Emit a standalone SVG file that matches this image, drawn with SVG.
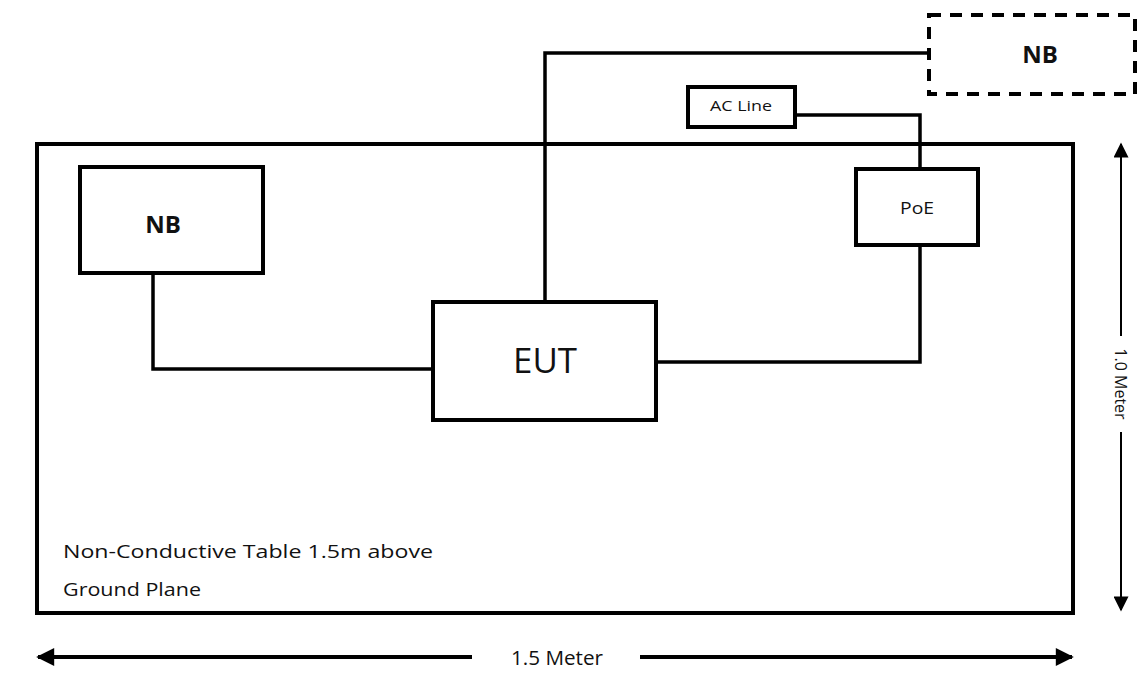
<svg xmlns="http://www.w3.org/2000/svg" width="1138" height="679" viewBox="0 0 1138 679">
<style>
.box{fill:#fff;stroke:#000;stroke-width:4}
.dash{fill:#fff;stroke:#000;stroke-width:4;stroke-dasharray:12 9}
.wire{fill:none;stroke:#000;stroke-width:3.5}
.dim{fill:none;stroke:#000;stroke-width:2}
.dimh{fill:none;stroke:#000;stroke-width:4}
text{font-family:"Open Sans","Liberation Sans",sans-serif;fill:#111}
.lbl{font-size:19px}
.nb{font-size:24px;font-weight:bold}
</style>
<defs>
<marker id="ahv" viewBox="0 0 10 10" refX="9" refY="5" markerWidth="24" markerHeight="15" orient="auto-start-reverse" markerUnits="userSpaceOnUse">
<path d="M0,0 L10,5 L0,10 z" fill="#000"/>
</marker>
<marker id="ahh" viewBox="0 0 10 10" refX="9" refY="5" markerWidth="26" markerHeight="18" orient="auto-start-reverse" markerUnits="userSpaceOnUse">
<path d="M0,0 L10,5 L0,10 z" fill="#000"/>
</marker>
</defs>
<rect width="1138" height="679" fill="#fff"/>
<g id="table">
<rect x="37" y="144" width="1036" height="469" fill="none" stroke="#000" stroke-width="4"/>
<text class="lbl" x="63" y="558" textLength="370" lengthAdjust="spacingAndGlyphs">Non-Conductive Table  1.5m  above</text>
<text class="lbl" x="63" y="596" textLength="138" lengthAdjust="spacingAndGlyphs">Ground Plane</text>
</g>
<g id="connectors">
<polyline class="wire" points="545,302 545,53 929,53"/>
<polyline class="wire" points="795,115 920,115 920,169"/>
<polyline class="wire" points="920,245 920,362 656,362"/>
<polyline class="wire" points="153,273 153,369 433,369"/>
</g>
<g id="nb-local">
<rect class="box" x="80" y="167" width="183" height="106"/>
<text class="nb" x="163" y="233" text-anchor="middle">NB</text>
</g>
<g id="eut">
<rect class="box" x="433" y="302" width="223" height="118"/>
<text x="545" y="373" font-size="34" text-anchor="middle" textLength="64" lengthAdjust="spacingAndGlyphs">EUT</text>
</g>
<g id="poe">
<rect class="box" x="856" y="169" width="122" height="76"/>
<text x="917" y="214" font-size="16" text-anchor="middle" textLength="34" lengthAdjust="spacingAndGlyphs">PoE</text>
</g>
<g id="ac-line">
<rect class="box" x="688" y="87" width="107" height="40"/>
<text x="741" y="111" font-size="14" text-anchor="middle" textLength="62" lengthAdjust="spacingAndGlyphs">AC Line</text>
</g>
<g id="nb-remote">
<rect class="dash" x="929" y="15" width="206" height="79"/>
<text class="nb" x="1040" y="63" text-anchor="middle">NB</text>
</g>
<g id="dimensions">
<line class="dim" x1="1121" y1="336" x2="1121" y2="144" marker-end="url(#ahv)"/>
<line class="dim" x1="1121" y1="432" x2="1121" y2="610" marker-end="url(#ahv)"/>
<text x="1121" y="384" font-size="16" font-family="Liberation Sans" text-anchor="middle" dominant-baseline="central" transform="rotate(90 1121 384)">1.0 Meter</text>
<line class="dimh" x1="472" y1="657" x2="38" y2="657" marker-end="url(#ahh)"/>
<line class="dimh" x1="640" y1="657" x2="1072" y2="657" marker-end="url(#ahh)"/>
<text x="557" y="665" font-size="20" text-anchor="middle" textLength="92" lengthAdjust="spacingAndGlyphs">1.5 Meter</text>
</g>
</svg>
